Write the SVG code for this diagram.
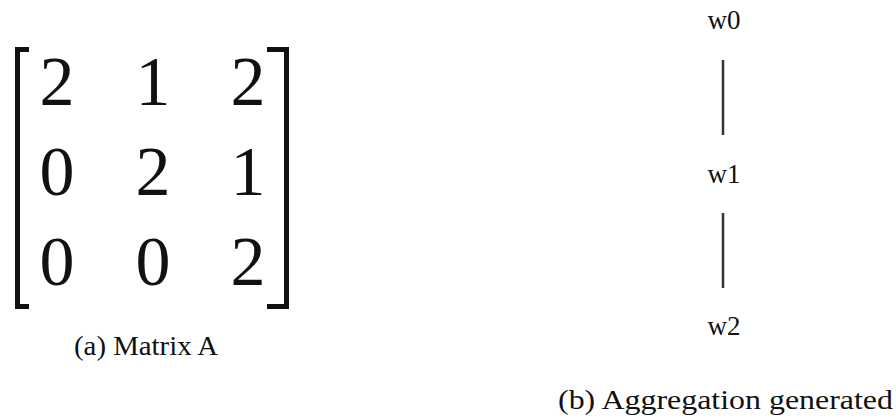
<svg xmlns="http://www.w3.org/2000/svg" width="896" height="418" viewBox="0 0 896 418">
<style>
.m{font-family:"Liberation Serif","DejaVu Serif",serif;font-size:70px;fill:#111;text-anchor:middle}
.br{fill:none;stroke:#111;stroke-width:5;stroke-linecap:butt}
.w{font-family:"Liberation Serif","Times New Roman",serif;font-size:27px;fill:#111;text-anchor:middle}
.cap{font-family:"Liberation Serif","DejaVu Serif",serif;font-size:27px;fill:#111}
.edge{stroke:#333;stroke-width:2.5}
</style>
<rect width="896" height="418" fill="#fff"/>
<g id="matrix">
<path class="br" d="M29 49.5 H17.5 V306.5 H29"/>
<path class="br" d="M267 49.5 H286.5 V306.5 H267"/>
<text class="m" x="57" y="105">2</text><text class="m" x="153" y="105">1</text><text class="m" x="248" y="105">2</text>
<text class="m" x="57" y="195">0</text><text class="m" x="153" y="195">2</text><text class="m" x="248" y="195">1</text>
<text class="m" x="57" y="285">0</text><text class="m" x="153" y="285">0</text><text class="m" x="248" y="285">2</text>
</g>
<text class="cap" x="74" y="355" textLength="144" lengthAdjust="spacingAndGlyphs">(a) Matrix A</text>
<g id="connectors">
<line class="edge" x1="723" y1="60" x2="723" y2="135"/>
<line class="edge" x1="723" y1="213" x2="723" y2="288"/>
</g>
<g id="w0"><text class="w" x="724" y="29">w0</text></g>
<g id="w1"><text class="w" x="724" y="183">w1</text></g>
<g id="w2"><text class="w" x="724" y="335">w2</text></g>
<text class="cap" x="558" y="409" textLength="335" lengthAdjust="spacingAndGlyphs">(b) Aggregation generated</text>
</svg>
